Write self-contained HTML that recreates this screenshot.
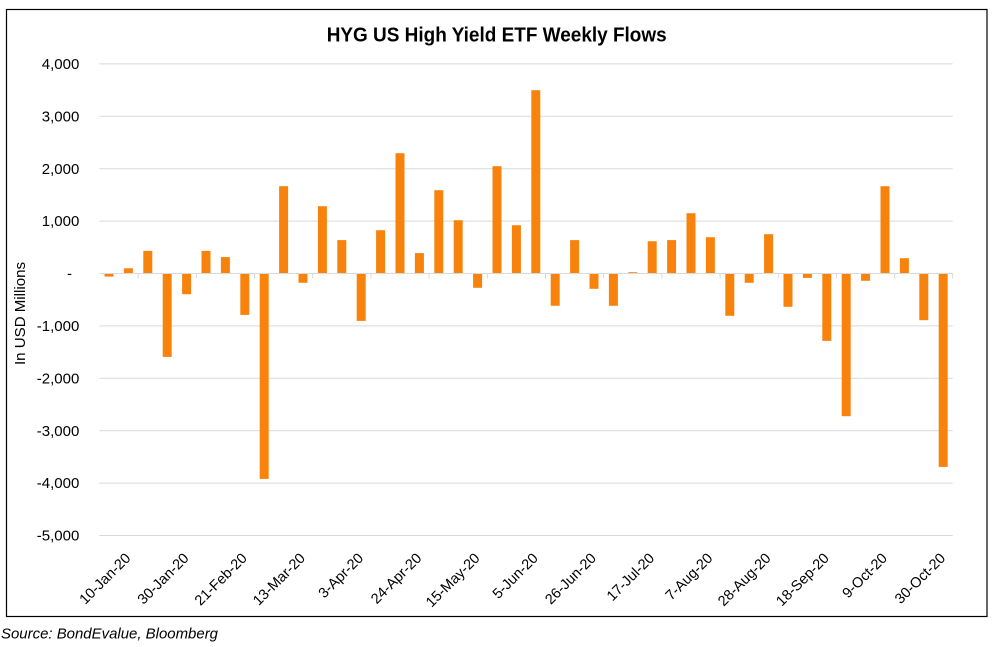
<!DOCTYPE html>
<html><head><meta charset="utf-8"><style>
html,body{margin:0;padding:0;background:#fff;}
svg{display:block;}
text{font-family:"Liberation Sans",Arial,sans-serif;fill:#000;}
</style></head><body>
<svg width="995" height="647" viewBox="0 0 995 647" xmlns="http://www.w3.org/2000/svg">
<rect x="0" y="0" width="995" height="647" fill="#fff"/>
<rect x="6.5" y="9.5" width="980.5" height="607" fill="none" stroke="#000" stroke-width="1.2"/>
<text x="326.7" y="41.7" font-size="20" font-weight="bold" textLength="340" lengthAdjust="spacingAndGlyphs">HYG US High Yield ETF Weekly Flows</text>
<g stroke="#d9d9d9" stroke-width="1">
<line x1="99.3" y1="63.9" x2="952.7" y2="63.9"/>
<line x1="99.3" y1="116.3" x2="952.7" y2="116.3"/>
<line x1="99.3" y1="168.7" x2="952.7" y2="168.7"/>
<line x1="99.3" y1="221.1" x2="952.7" y2="221.1"/>
<line x1="99.3" y1="325.9" x2="952.7" y2="325.9"/>
<line x1="99.3" y1="378.3" x2="952.7" y2="378.3"/>
<line x1="99.3" y1="430.7" x2="952.7" y2="430.7"/>
<line x1="99.3" y1="483.1" x2="952.7" y2="483.1"/>
<line x1="99.3" y1="535.5" x2="952.7" y2="535.5"/>
</g>
<g font-size="15" text-anchor="end">
<text x="79.3" y="69">4,000</text>
<text x="79.3" y="121.4">3,000</text>
<text x="79.3" y="173.8">2,000</text>
<text x="79.3" y="226.2">1,000</text>
<text x="72" y="278.6">-</text>
<text x="79.3" y="331">-1,000</text>
<text x="79.3" y="383.4">-2,000</text>
<text x="79.3" y="435.8">-3,000</text>
<text x="79.3" y="488.2">-4,000</text>
<text x="79.3" y="540.6">-5,000</text>
</g>
<text transform="translate(25,313.5) rotate(-90)" font-size="14.5" text-anchor="middle" textLength="103" lengthAdjust="spacingAndGlyphs">In USD Millions</text>
<g fill="#f7830d">
<rect x="104.5" y="273.5" width="9" height="3.1"/>
<rect x="123.9" y="268.3" width="9" height="5.2"/>
<rect x="143.3" y="250.9" width="9" height="22.6"/>
<rect x="162.7" y="273.5" width="9" height="83.4"/>
<rect x="182.1" y="273.5" width="9" height="20.7"/>
<rect x="201.5" y="250.9" width="9" height="22.6"/>
<rect x="220.9" y="257.1" width="9" height="16.4"/>
<rect x="240.3" y="273.5" width="9" height="41.4"/>
<rect x="259.7" y="273.5" width="9" height="205.4"/>
<rect x="279.1" y="186.2" width="9" height="87.3"/>
<rect x="298.5" y="273.5" width="9" height="9.3"/>
<rect x="317.9" y="206.2" width="9" height="67.3"/>
<rect x="337.3" y="240.1" width="9" height="33.4"/>
<rect x="356.7" y="273.5" width="9" height="47.4"/>
<rect x="376.1" y="230.2" width="9" height="43.3"/>
<rect x="395.5" y="153.2" width="9" height="120.3"/>
<rect x="414.9" y="253.1" width="9" height="20.4"/>
<rect x="434.3" y="190.2" width="9" height="83.3"/>
<rect x="453.7" y="220.2" width="9" height="53.3"/>
<rect x="473.1" y="273.5" width="9" height="14.3"/>
<rect x="492.5" y="166.2" width="9" height="107.3"/>
<rect x="511.9" y="225.2" width="9" height="48.3"/>
<rect x="531.3" y="90.2" width="9" height="183.3"/>
<rect x="550.7" y="273.5" width="9" height="32.3"/>
<rect x="570.1" y="240.1" width="9" height="33.4"/>
<rect x="589.5" y="273.5" width="9" height="15.3"/>
<rect x="608.9" y="273.5" width="9" height="32.3"/>
<rect x="628.3" y="272.2" width="9" height="1.3"/>
<rect x="647.7" y="241.2" width="9" height="32.3"/>
<rect x="667.1" y="240.1" width="9" height="33.4"/>
<rect x="686.5" y="213.2" width="9" height="60.3"/>
<rect x="705.9" y="237.2" width="9" height="36.3"/>
<rect x="725.3" y="273.5" width="9" height="42.3"/>
<rect x="744.7" y="273.5" width="9" height="9.3"/>
<rect x="764.1" y="234.2" width="9" height="39.3"/>
<rect x="783.5" y="273.5" width="9" height="33.3"/>
<rect x="802.9" y="273.5" width="9" height="4.4"/>
<rect x="822.3" y="273.5" width="9" height="67.4"/>
<rect x="841.7" y="273.5" width="9" height="142.7"/>
<rect x="861.1" y="273.5" width="9" height="7.3"/>
<rect x="880.5" y="186.2" width="9" height="87.3"/>
<rect x="899.9" y="258.2" width="9" height="15.3"/>
<rect x="919.3" y="273.5" width="9" height="46.7"/>
<rect x="938.7" y="273.5" width="9" height="193.4"/>
</g>
<g stroke="#d9d9d9" stroke-width="1">
<line x1="99.3" y1="273.5" x2="952.7" y2="273.5"/>
<line x1="138.1" y1="273.5" x2="138.1" y2="278.5"/>
<line x1="196.3" y1="273.5" x2="196.3" y2="278.5"/>
<line x1="254.5" y1="273.5" x2="254.5" y2="278.5"/>
<line x1="312.7" y1="273.5" x2="312.7" y2="278.5"/>
<line x1="370.9" y1="273.5" x2="370.9" y2="278.5"/>
<line x1="429.1" y1="273.5" x2="429.1" y2="278.5"/>
<line x1="487.3" y1="273.5" x2="487.3" y2="278.5"/>
<line x1="545.5" y1="273.5" x2="545.5" y2="278.5"/>
<line x1="603.7" y1="273.5" x2="603.7" y2="278.5"/>
<line x1="661.9" y1="273.5" x2="661.9" y2="278.5"/>
<line x1="720.1" y1="273.5" x2="720.1" y2="278.5"/>
<line x1="778.3" y1="273.5" x2="778.3" y2="278.5"/>
<line x1="836.5" y1="273.5" x2="836.5" y2="278.5"/>
<line x1="894.7" y1="273.5" x2="894.7" y2="278.5"/>
<line x1="952.7" y1="273.5" x2="952.7" y2="278.5"/>
</g>
<g font-size="14.5" text-anchor="end">
<text transform="translate(131.4,559) rotate(-45)">10-Jan-20</text>
<text transform="translate(189.6,559) rotate(-45)">30-Jan-20</text>
<text transform="translate(247.8,559) rotate(-45)">21-Feb-20</text>
<text transform="translate(306,559) rotate(-45)">13-Mar-20</text>
<text transform="translate(364.2,559) rotate(-45)">3-Apr-20</text>
<text transform="translate(422.4,559) rotate(-45)">24-Apr-20</text>
<text transform="translate(480.6,559) rotate(-45)">15-May-20</text>
<text transform="translate(538.8,559) rotate(-45)">5-Jun-20</text>
<text transform="translate(597,559) rotate(-45)">26-Jun-20</text>
<text transform="translate(655.2,559) rotate(-45)">17-Jul-20</text>
<text transform="translate(713.4,559) rotate(-45)">7-Aug-20</text>
<text transform="translate(771.6,559) rotate(-45)">28-Aug-20</text>
<text transform="translate(829.8,559) rotate(-45)">18-Sep-20</text>
<text transform="translate(888,559) rotate(-45)">9-Oct-20</text>
<text transform="translate(946.2,559) rotate(-45)">30-Oct-20</text>
</g>
<text x="1" y="638.3" font-size="15" font-style="italic" textLength="217" lengthAdjust="spacingAndGlyphs">Source: BondEvalue, Bloomberg</text>
</svg>
</body></html>
